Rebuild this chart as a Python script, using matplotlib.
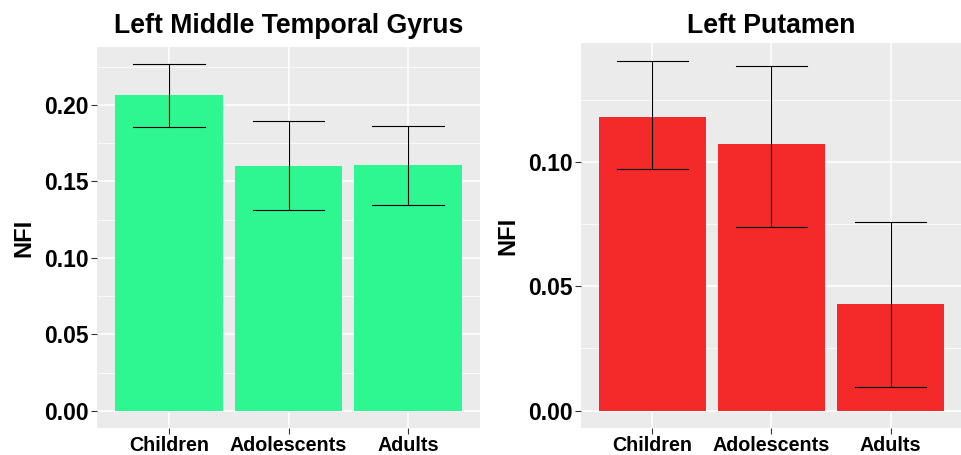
import matplotlib.pyplot as plt
import numpy as np

plt.rcParams["font.family"] = ["Liberation Sans", "DejaVu Sans"]
plt.rcParams["font.weight"] = "bold"

groups = ["Children", "Adolescents", "Adults"]

mtg_mean = [0.2063, 0.1600, 0.1606]
mtg_low = [0.1859, 0.1312, 0.1347]
mtg_high = [0.2266, 0.1894, 0.1861]

put_mean = [0.1184, 0.1075, 0.0430]
put_low = [0.0972, 0.0740, 0.0094]
put_high = [0.1410, 0.1390, 0.0761]


def panel(ax, mean, low, high, color, title, major, ylim, title_pad):
    x = np.arange(1, len(groups) + 1)
    ax.set_facecolor("#EBEBEB")
    for s in ax.spines.values():
        s.set_visible(False)
    ax.set_axisbelow(True)
    ax.bar(x, mean, width=0.9, color=color, zorder=2)
    for xi, lo, hi in zip(x, low, high):
        ax.plot([xi, xi], [lo, hi], color="black", lw=0.8, zorder=3)
        ax.plot([xi - 0.3, xi + 0.3], [lo, lo], color="black", lw=0.8, zorder=3)
        ax.plot([xi - 0.3, xi + 0.3], [hi, hi], color="black", lw=0.8, zorder=3)
    ax.set_xlim(0.4, 3.6)
    ax.set_ylim(*ylim)
    ax.set_xticks(x)
    ax.set_xticklabels(groups, fontsize=14.2, fontweight="bold")
    ax.set_yticks(major)
    ax.set_yticklabels(["{:.2f}".format(v) for v in major], fontsize=16.5, fontweight="bold")
    minor = [(a + b) / 2 for a, b in zip(major[:-1], major[1:])]
    minor.append(major[-1] + (major[1] - major[0]) / 2)
    ax.set_yticks(minor, minor=True)
    ax.tick_params(axis="y", which="minor", length=0)
    ax.tick_params(which="major", length=4, width=0.8, color="#333333", pad=2)
    ax.grid(True, which="major", color="white", lw=1.1)
    ax.grid(True, which="minor", axis="y", color="white", lw=0.55)
    ax.set_ylabel("NFI", fontsize=17, fontweight="bold", labelpad=6)
    ax.set_title(title, fontsize=19.2, fontweight="bold", pad=title_pad)


fig = plt.figure(figsize=(9.62, 4.55), dpi=100)
ax1 = fig.add_axes([97 / 962, 27 / 455, 383 / 962, 381 / 455])
ax2 = fig.add_axes([581 / 962, 27 / 455, 381 / 962, 385 / 455])

panel(ax1, mtg_mean, mtg_low, mtg_high, "#2EF792", "Left Middle Temporal Gyrus",
      [0.0, 0.05, 0.10, 0.15, 0.20], (-0.0113, 0.2379), 10)
panel(ax2, put_mean, put_low, put_high, "#F42929", "Left Putamen",
      [0.0, 0.05, 0.10], (-0.00705, 0.1481), 7.1)

fig.savefig("out.png", dpi=100)
